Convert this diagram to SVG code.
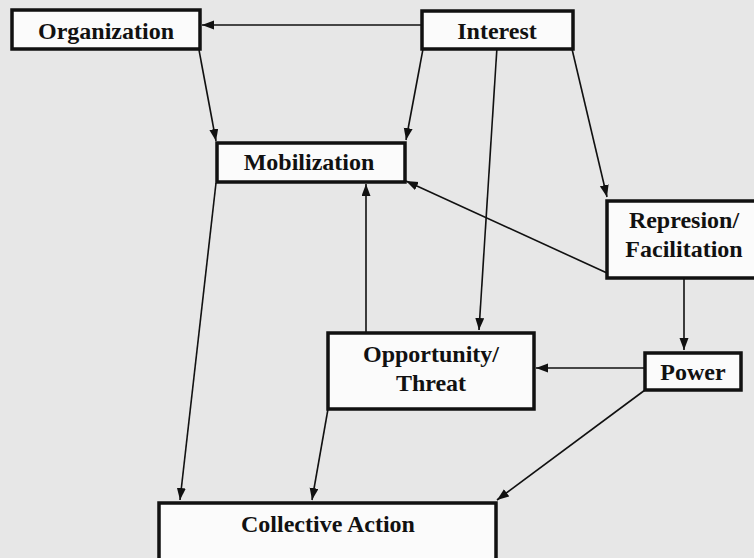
<svg xmlns="http://www.w3.org/2000/svg" width="754" height="558" viewBox="0 0 754 558">
<style>
.box{fill:#fbfbfb;stroke:#111;stroke-width:3.5}
.lbl{font-family:"Liberation Serif","Times New Roman",serif;font-weight:bold;font-size:24px;fill:#111;text-anchor:middle}
.con{stroke:#111;stroke-width:1.6;fill:none;marker-end:url(#ah)}
</style>
<defs>
<marker id="ah" markerUnits="userSpaceOnUse" markerWidth="13" markerHeight="10" refX="12" refY="4.5" orient="auto">
<path d="M0,0 L12,4.5 L0,9 z" fill="#111"/>
</marker>
</defs>
<rect x="0" y="0" width="754" height="558" fill="#e7e7e7"/>
<g id="connectors">
<line class="con" x1="422" y1="25" x2="202" y2="25"/>
<line class="con" x1="199" y1="50" x2="216" y2="141"/>
<line class="con" x1="423" y1="49" x2="406" y2="140"/>
<line class="con" x1="572" y1="49" x2="607" y2="197"/>
<line class="con" x1="497" y1="47" x2="479" y2="330"/>
<line class="con" x1="607" y1="273" x2="406" y2="181"/>
<line class="con" x1="366" y1="333" x2="366" y2="184"/>
<line class="con" x1="684" y1="278" x2="684" y2="350"/>
<line class="con" x1="645" y1="368" x2="536" y2="368"/>
<line class="con" x1="645" y1="390" x2="497" y2="500"/>
<line class="con" x1="216" y1="183" x2="180" y2="500"/>
<line class="con" x1="328" y1="409" x2="312" y2="500"/>
</g>
<g id="organization">
<rect class="box" x="12" y="10" width="188" height="39"/>
<text class="lbl" x="106" y="39">Organization</text>
</g>
<g id="interest">
<rect class="box" x="422" y="11" width="151" height="38"/>
<text class="lbl" x="497" y="39">Interest</text>
</g>
<g id="mobilization">
<rect class="box" x="217" y="143" width="188" height="39"/>
<text class="lbl" x="309" y="170">Mobilization</text>
</g>
<g id="repression">
<rect class="box" x="607" y="201" width="155" height="77"/>
<text class="lbl" x="684" y="228">Represion/</text>
<text class="lbl" x="684" y="257">Facilitation</text>
</g>
<g id="opportunity">
<rect class="box" x="328" y="333" width="206" height="76"/>
<text class="lbl" x="431" y="362">Opportunity/</text>
<text class="lbl" x="431" y="391">Threat</text>
</g>
<g id="power">
<rect class="box" x="645" y="353" width="96" height="37"/>
<text class="lbl" x="693" y="380">Power</text>
</g>
<g id="collective">
<rect class="box" x="159" y="503" width="337" height="70"/>
<text class="lbl" x="328" y="532">Collective Action</text>
</g>
</svg>
